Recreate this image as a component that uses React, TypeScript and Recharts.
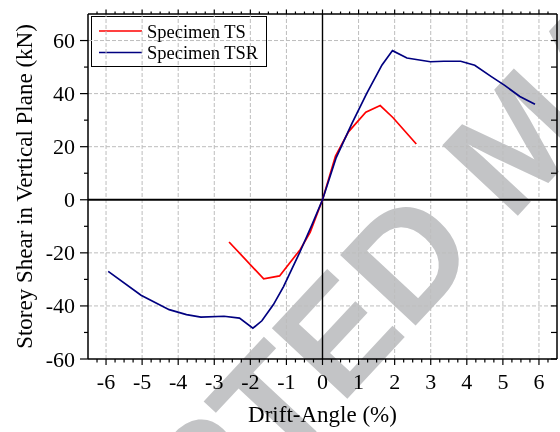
import React from 'react';
import { LineChart, Line, XAxis, YAxis, ReferenceLine, Customized } from 'recharts';

// Specimen TS: drift angle (%) vs storey shear (kN)
const tsDrift = [-2.59, -1.63, -1.19, -0.62, -0.34, 0, 0.36, 0.72, 1.2, 1.6, 1.95, 2.6];
const tsShear = [-15.9, -29.8, -28.7, -18.8, -12.2, 0, 16.5, 25.6, 33.0, 35.5, 31.0, 21.0];

// Specimen TSR: drift angle (%) vs storey shear (kN)
const tsrDrift = [-5.94, -5.03, -4.25, -3.77, -3.37, -2.73, -2.3, -1.93, -1.68, -1.36, -1.08, -0.62, -0.29, 0, 0.38, 0.82, 1.23, 1.65, 1.94, 2.34, 2.99, 3.36, 3.83, 4.22, 4.68, 5.05, 5.47, 5.89];
const tsrShear = [-27.0, -36.0, -41.4, -43.3, -44.2, -43.9, -44.6, -48.4, -45.6, -39.5, -32.7, -19.5, -9.4, 0, 15.9, 28.9, 40.2, 50.8, 56.2, 53.4, 52.0, 52.2, 52.2, 50.7, 46.4, 43.1, 38.9, 36.0];

// Axis ticks and grid
const xMajorTicks = [-6, -5, -4, -3, -2, -1, 0, 1, 2, 3, 4, 5, 6];
const xMinorOffsets = [-0.25, 0.25, 0.5];
const yMajorTicks = [-60, -40, -20, 0, 20, 40, 60];
const yMinorTicks = [-50, -30, -10, 10, 30, 50];
const xGridValues = [-6, -5, -4, -3, -2, -1, 1, 2, 3, 4, 5, 6];
const yGridValues = [-40, -20, 20, 40, 60];

const seriesNames = ['Specimen TS', 'Specimen TSR'];
const seriesColors = ['#ff0000', '#000080'];

const xDomain: [number, number] = [-6.5, 6.5];
const yDomain: [number, number] = [-60, 70];

const tsData = tsDrift.map((d, i) => ({ drift: d, shear: tsShear[i] }));
const tsrData = tsrDrift.map((d, i) => ({ drift: d, shear: tsrShear[i] }));

const xAllTicks = Array.from(
  new Set(
    xMajorTicks
      .flatMap((t) => [t, ...xMinorOffsets.map((o) => t + o)])
      .filter((t) => t > xDomain[0] && t < xDomain[1])
  )
).sort((a, b) => a - b);
const yAllTicks = [...yMajorTicks, ...yMinorTicks].sort((a, b) => a - b);

const serif = "'Liberation Serif', 'Times New Roman', serif";
const W = 560;
const H = 432;
// Axis bands are 1px, so plot area is 88..557 x 14..359
const margin = { top: 13, right: 2, bottom: 72, left: 87 };

const isMajor = (v: number) => Number.isInteger(v);

const BottomTick = (props: any) => {
  const { x, y, payload } = props;
  const v = payload.value as number;
  const major = isMajor(v);
  return (
    <g>
      <line x1={x} x2={x} y1={y} y2={y + (major ? 6 : 3.5)} stroke="#000" strokeWidth={1.2} />
      {major && (
        <text x={x} y={y + 29.5} textAnchor="middle" fontSize={22} fontFamily={serif} fill="#000">
          {String(v)}
        </text>
      )}
    </g>
  );
};

const TopTick = (props: any) => {
  const { x, y, payload } = props;
  const major = isMajor(payload.value);
  return <line x1={x} x2={x} y1={y} y2={y - (major ? 4.5 : 2.5)} stroke="#000" strokeWidth={1.2} />;
};

const LeftTick = (props: any) => {
  const { x, y, payload } = props;
  const v = payload.value as number;
  const major = yMajorTicks.includes(v);
  return (
    <g>
      <line x1={x} x2={x - (major ? 8 : 4)} y1={y} y2={y} stroke="#000" strokeWidth={1.2} />
      {major && (
        <text x={75} y={y} dy={7.5} textAnchor="end" fontSize={22} fontFamily={serif} fill="#000">
          {String(v)}
        </text>
      )}
    </g>
  );
};

const RightTick = (props: any) => {
  const { x, y } = props;
  return <line x1={x} x2={x - 6} y1={y} y2={y} stroke="#000" strokeWidth={1.2} />;
};

const LegendBox = () => (
  <g>
    <rect x={91.5} y={16.5} width={175} height={50} fill="#fff" stroke="#000" strokeWidth={1} />
    {seriesNames.map((name, i) => (
      <g key={name}>
        <line x1={99} x2={142} y1={31 + i * 21.5} y2={31 + i * 21.5} stroke={seriesColors[i]} strokeWidth={1.6} />
        <text x={147} y={37.5 + i * 21.5} fontSize={18.5} fontFamily={serif} fill="#000">
          {name}
        </text>
      </g>
    ))}
  </g>
);

const AxisTitles = () => (
  <g fontFamily={serif} fill="#000">
    <text x={322.5} y={421.5} textAnchor="middle" fontSize={23}>
      Drift-Angle (%)
    </text>
    <text transform="translate(32,186.5) rotate(-90)" textAnchor="middle" fontSize={23}>
      Storey Shear in Vertical Plane (kN)
    </text>
  </g>
);

const Watermark = () => (
  <g style={{ mixBlendMode: 'multiply' }}>
    <text
      transform="translate(-80,857) rotate(-47)"
      fontFamily="'Liberation Sans', Arial, sans-serif"
      fontWeight="bold"
      fontSize={150}
      fill="#c3c4c6"
    >
      ACCEPTED MANUSCRIPT
    </text>
  </g>
);

const axisLineStyle = { stroke: '#000', strokeWidth: 1.5 };

export default function App() {
  return (
    <div style={{ position: 'absolute', left: 0, top: 0, width: W, height: H, background: '#fff' }}>
      <LineChart width={W} height={H} margin={margin}>
        <XAxis
          xAxisId="bottom"
          dataKey="drift"
          type="number"
          domain={xDomain}
          allowDataOverflow
          ticks={xAllTicks}
          interval={0}
          height={1}
          tickSize={0}
          tickMargin={0}
          tickLine={false}
          tick={<BottomTick />}
          axisLine={axisLineStyle}
        />
        <XAxis
          xAxisId="top"
          orientation="top"
          dataKey="drift"
          type="number"
          domain={xDomain}
          allowDataOverflow
          ticks={xAllTicks}
          interval={0}
          height={1}
          tickSize={0}
          tickMargin={0}
          tickLine={false}
          tick={<TopTick />}
          axisLine={axisLineStyle}
        />
        <YAxis
          yAxisId="left"
          type="number"
          domain={yDomain}
          allowDataOverflow
          ticks={yAllTicks}
          interval={0}
          width={1}
          tickSize={0}
          tickMargin={0}
          tickLine={false}
          tick={<LeftTick />}
          axisLine={axisLineStyle}
        />
        <YAxis
          yAxisId="right"
          orientation="right"
          type="number"
          domain={yDomain}
          allowDataOverflow
          ticks={yAllTicks}
          interval={0}
          width={1}
          tickSize={0}
          tickMargin={0}
          tickLine={false}
          tick={<RightTick />}
          axisLine={axisLineStyle}
        />

        {xGridValues.map((v) => (
          <ReferenceLine key={`gx${v}`} x={v} xAxisId="bottom" yAxisId="left" stroke="#bdbdbd" strokeDasharray="4 2" strokeWidth={1} />
        ))}
        {yGridValues.map((v) => (
          <ReferenceLine key={`gy${v}`} y={v} xAxisId="bottom" yAxisId="left" stroke="#bdbdbd" strokeDasharray="4 2" strokeWidth={1} />
        ))}
        <ReferenceLine x={0} xAxisId="bottom" yAxisId="left" stroke="#000" strokeWidth={1.4} />
        <ReferenceLine y={0} xAxisId="bottom" yAxisId="left" stroke="#000" strokeWidth={2} />

        <Line
          data={tsData}
          dataKey="shear"
          xAxisId="bottom"
          yAxisId="left"
          stroke={seriesColors[0]}
          strokeWidth={1.7}
          dot={false}
          activeDot={false}
          isAnimationActive={false}
        />
        <Line
          data={tsrData}
          dataKey="shear"
          xAxisId="bottom"
          yAxisId="left"
          stroke={seriesColors[1]}
          strokeWidth={1.7}
          dot={false}
          activeDot={false}
          isAnimationActive={false}
        />

        <Customized component={LegendBox} />
        <Customized component={AxisTitles} />
        <Customized component={Watermark} />
      </LineChart>
    </div>
  );
}
